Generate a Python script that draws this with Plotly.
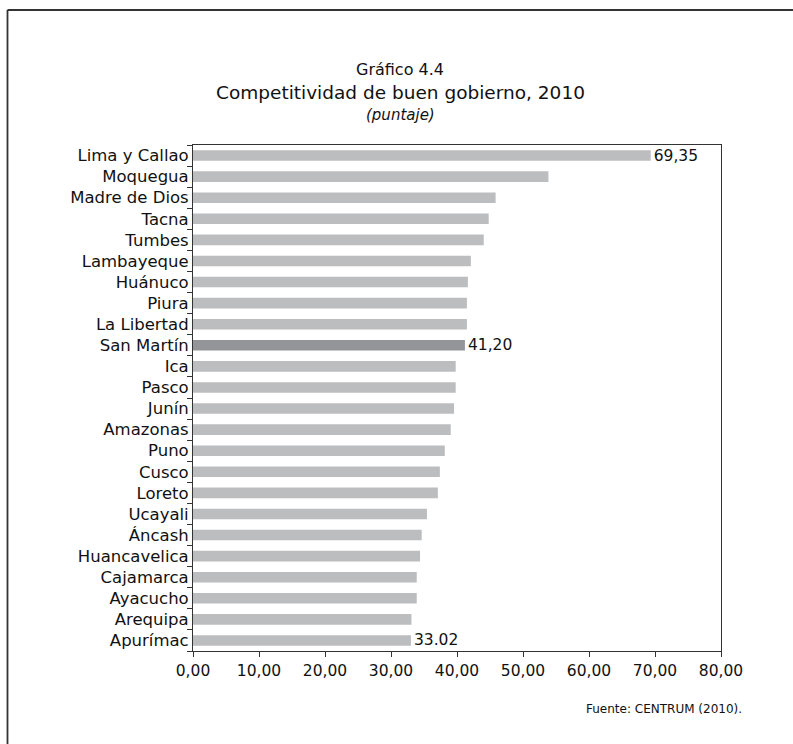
import plotly.graph_objects as go

regions = ["Lima y Callao", "Moquegua", "Madre de Dios", "Tacna", "Tumbes", "Lambayeque",
           "Huánuco", "Piura", "La Libertad", "San Martín", "Ica", "Pasco", "Junín",
           "Amazonas", "Puno", "Cusco", "Loreto", "Ucayali", "Áncash", "Huancavelica",
           "Cajamarca", "Ayacucho", "Arequipa", "Apurímac"]
scores = [69.35, 53.85, 45.85, 44.80, 44.05, 42.10, 41.65, 41.50, 41.50, 41.20, 39.80, 39.80,
          39.55, 39.05, 38.15, 37.40, 37.10, 35.45, 34.65, 34.40, 33.90, 33.90, 33.10, 33.02]
value_labels = {"Lima y Callao": "69,35", "San Martín": "41,20", "Apurímac": "33.02"}
highlight = "San Martín"
x_ticks = [0, 10, 20, 30, 40, 50, 60, 70, 80]

FONT = "DejaVu Sans, Liberation Sans, Arial, sans-serif"
colors = ["#939598" if r == highlight else "#BCBDBF" for r in regions]
texts = [value_labels.get(r, "") for r in regions]

W, H = 793, 744
# target plot box in pixels
plot_left, plot_right, plot_top, plot_bottom = 193, 721, 145, 651

fig = go.Figure(go.Bar(
    x=scores, y=regions, orientation="h",
    marker=dict(color=colors, line=dict(width=0)),
    text=texts, textposition="outside", cliponaxis=False, constraintext="none",
    textfont=dict(family=FONT, size=15.5, color="#111"),
    hoverinfo="x+y",
))

fig.update_layout(
    width=W, height=H,
    paper_bgcolor="white", plot_bgcolor="white",
    margin=dict(l=plot_left, r=W - plot_right, t=plot_top, b=H - plot_bottom,
                autoexpand=False),
    bargap=0.5,
    showlegend=False,
    font=dict(family=FONT, size=15.5, color="#111"),
    separators=",.",
    xaxis=dict(range=[0, 80], tickvals=x_ticks, tickformat=".2f",
               showgrid=False, zeroline=False, showline=True, linecolor="#333", linewidth=1,
               mirror=True, ticks="outside", ticklen=5, tickcolor="#333",
               tickfont=dict(size=15.5)),
    yaxis=dict(categoryorder="array", categoryarray=regions[::-1],
               showgrid=False, showline=True, linecolor="#333", linewidth=1, mirror=True,
               ticks="outside", ticklen=5, tickcolor="#333", tickson="boundaries",
               tickfont=dict(size=16.5)),
)

def px_x(px):
    return (px - plot_left) / (plot_right - plot_left)
def px_y(py):
    return (plot_bottom - py) / (plot_bottom - plot_top)

title_cx = 400
fig.add_annotation(text="Gráfico 4.4", x=px_x(title_cx), y=px_y(70), xref="paper", yref="paper",
                   showarrow=False, xanchor="center", yanchor="middle", font=dict(size=16))
fig.add_annotation(text="Competitividad de buen gobierno, 2010", x=px_x(title_cx), y=px_y(93),
                   xref="paper", yref="paper", showarrow=False, xanchor="center",
                   yanchor="middle", font=dict(size=18.5))
fig.add_annotation(text="<i>(puntaje)</i>", x=px_x(title_cx), y=px_y(115), xref="paper",
                   yref="paper", showarrow=False, xanchor="center", yanchor="middle",
                   font=dict(size=15))
fig.add_annotation(text="Fuente: CENTRUM (2010).", x=px_x(744), y=px_y(709), xref="paper",
                   yref="paper", showarrow=False, xanchor="right", yanchor="middle",
                   font=dict(size=12))

# outer frame: top and left edges are visible in the reference
fig.add_shape(type="line", xref="paper", yref="paper",
              x0=px_x(7.5), x1=px_x(W + 5), y0=px_y(10), y1=px_y(10),
              line=dict(color="#333", width=1.8), layer="below")
fig.add_shape(type="line", xref="paper", yref="paper",
              x0=px_x(7.5), x1=px_x(7.5), y0=px_y(10), y1=px_y(H + 5),
              line=dict(color="#333", width=1.8), layer="below")

fig.write_html("out.html", config={"displayModeBar": False},
               post_script="document.body.style.margin='0';"
                           "document.body.style.overflow='hidden';")
